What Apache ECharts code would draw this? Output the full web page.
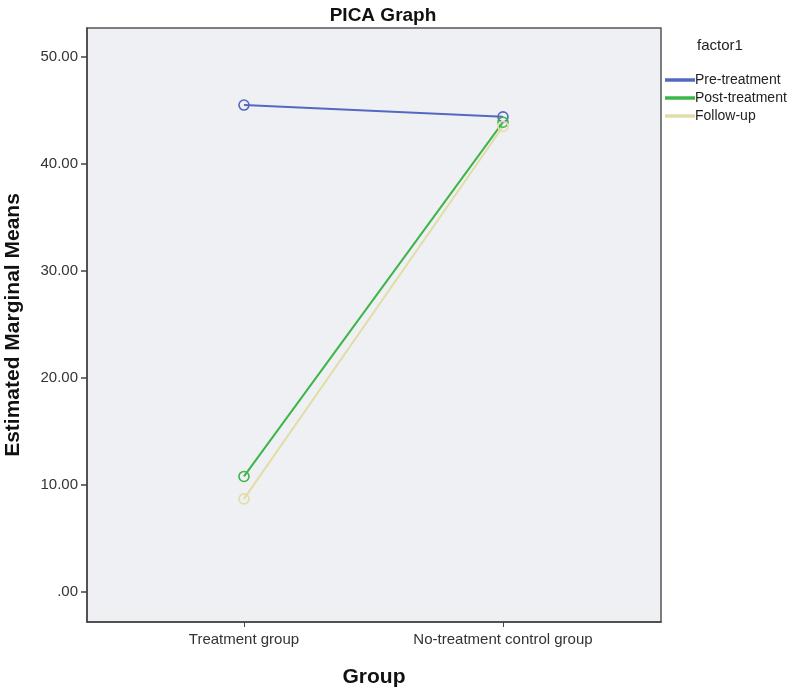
<!DOCTYPE html>
<html>
<head>
<meta charset="utf-8">
<script src="https://cdn.jsdelivr.net/npm/echarts@6/dist/echarts.min.js"></script>
<style>
  html, body { margin: 0; padding: 0; background: #fff; }
  #chart { width: 800px; height: 691px; }
</style>
</head>
<body>
<div id="chart"></div>
<script>
  // categories on the x axis
  const groups = ['Treatment group', 'No-treatment control group']
  // estimated marginal means per factor1 level
  const preTreatment = [45.5, 44.4]
  const postTreatment = [10.8, 43.9]
  const followUp = [8.7, 43.5]
  const yTicks = [0, 10, 20, 30, 40, 50]

  const seriesDefs = [
    {name: 'Pre-treatment', data: preTreatment, color: '#5468c0'},
    {name: 'Post-treatment', data: postTreatment, color: '#3db548'},
    {name: 'Follow-up', data: followUp, color: '#e2dda6'}
  ]

  const font = '"Liberation Sans", Arial, sans-serif'
  const chart = echarts.init(document.getElementById('chart'))

  const option = {
    animation: false,
    textStyle: {fontFamily: font},
    title: {
      text: 'PICA Graph',
      left: 378,
      textAlign: 'center',
      top: 1,
      textStyle: {fontSize: 19, fontWeight: 'bold', color: '#111', fontFamily: font}
    },
    graphic: [{
      type: 'text',
      left: 697,
      top: 38,
      style: {text: 'factor1', fontSize: 15, fill: '#222', fontFamily: font}
    }],
    legend: {
      orient: 'vertical',
      left: 660,
      top: 68,
      icon: 'rect',
      itemWidth: 28,
      itemHeight: 1.5,
      itemGap: 4,
      textStyle: {fontSize: 14, color: '#222', padding: [0, 0, 0, -4], fontFamily: font},
      data: seriesDefs.map(s => s.name)
    },
    grid: {
      left: 87,
      right: 139,
      top: 28,
      bottom: 69,
      outerBoundsMode: 'none',
      show: true,
      backgroundColor: '#eff0f4',
      borderColor: '#555',
      borderWidth: 1.5
    },
    xAxis: {
      type: 'value',
      min: -0.606,
      max: 1.61,
      name: 'Group',
      nameLocation: 'middle',
      nameGap: 45,
      nameMoveOverlap: false,
      nameTextStyle: {fontSize: 21, fontWeight: 'bold', color: '#111', fontFamily: font},
      axisLine: {show: true, onZero: false, lineStyle: {color: '#444', width: 1.5}},
      axisTick: {show: true, length: 5, customValues: [0, 1], lineStyle: {color: '#444'}},
      axisLabel: {
        customValues: [0, 1],
        fontSize: 15,
        color: '#333',
        margin: 10,
        formatter: v => groups[Math.round(v)]
      },
      splitLine: {show: false}
    },
    yAxis: {
      type: 'value',
      min: -2.8,
      max: 52.7,
      name: 'Estimated Marginal Means',
      nameLocation: 'middle',
      nameGap: 63,
      nameMoveOverlap: false,
      nameTextStyle: {fontSize: 21, fontWeight: 'bold', color: '#111', fontFamily: font},
      axisLine: {show: true, onZero: false, lineStyle: {color: '#444', width: 1.5}},
      axisTick: {show: true, length: 6, customValues: yTicks, lineStyle: {color: '#444', width: 1.5}},
      axisLabel: {
        customValues: yTicks,
        fontSize: 15,
        color: '#333',
        margin: 9,
        formatter: v => v === 0 ? '.00' : v.toFixed(2)
      },
      splitLine: {show: false}
    },
    series: seriesDefs.map(s => ({
      type: 'line',
      name: s.name,
      data: s.data.map((v, i) => [i, v]),
      symbol: 'circle',
      symbolSize: 10,
      showSymbol: true,
      color: s.color,
      lineStyle: {color: s.color, width: 2},
      itemStyle: {color: 'transparent', borderColor: s.color, borderWidth: 1.6}
    }))
  }

  chart.setOption(option)
</script>
</body>
</html>
